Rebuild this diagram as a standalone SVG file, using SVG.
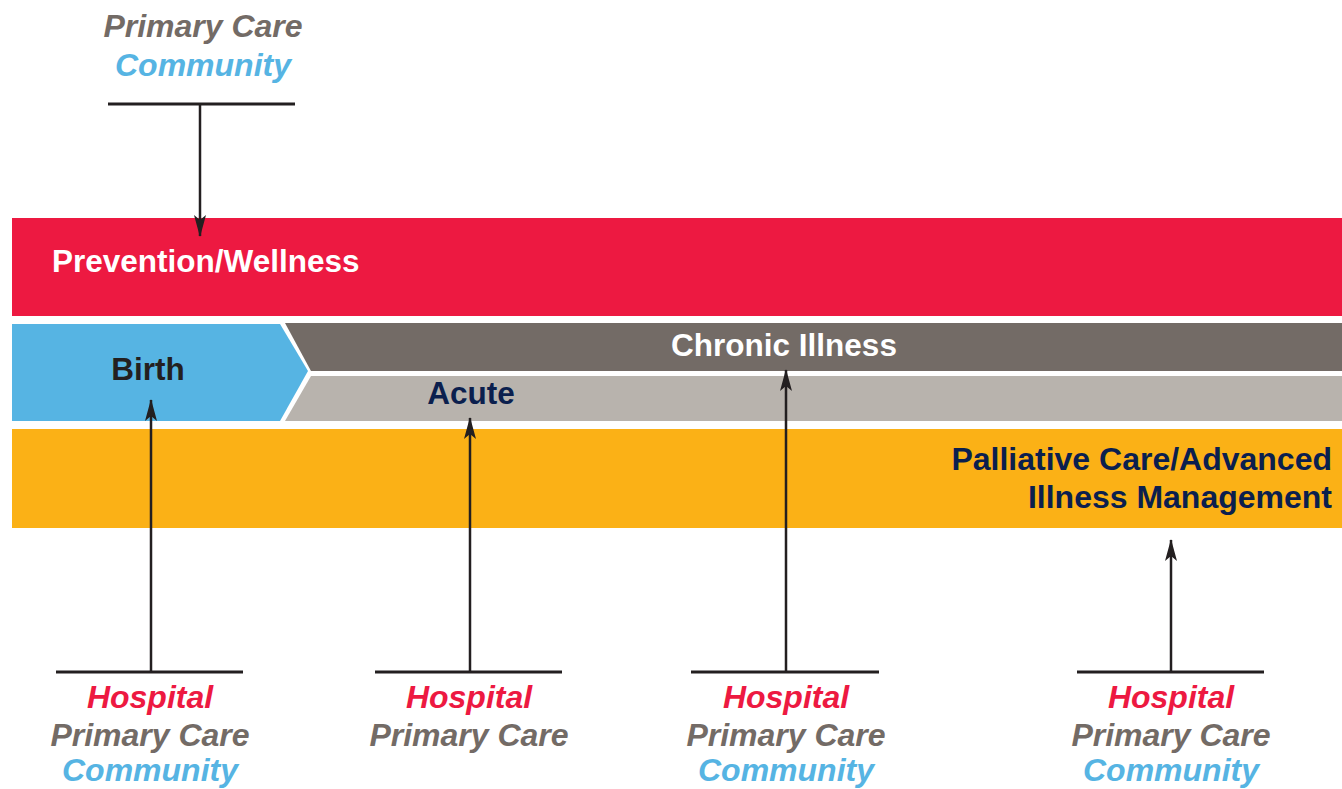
<svg xmlns="http://www.w3.org/2000/svg" width="1342" height="789" viewBox="0 0 1342 789">
<defs>
<style>
text{font-family:"Liberation Sans",Arial,sans-serif;font-weight:bold}
.lbl{font-size:31.5px}
.pal{font-size:32px}
.src{font-size:32px;font-style:italic;text-anchor:middle}
.hosp{fill:#ed1941}
.pc{fill:#736b66}
.com{fill:#56b4e3}
.ln{stroke:#231f20;stroke-width:3;fill:none}
.arr{stroke:#231f20;stroke-width:2.5;fill:none;marker-end:url(#ah)}
</style>
<marker id="ah" viewBox="0 0 22 12" refX="21" refY="6" markerWidth="22" markerHeight="12" markerUnits="userSpaceOnUse" orient="auto">
<path d="M0,0 L22,6 L0,12 L5,6 Z" fill="#231f20"/>
</marker>
</defs>
<rect width="1342" height="789" fill="#fff"/>
<g id="prevention">
<rect x="12" y="218" width="1330" height="98" fill="#ed1941"/>
<text class="lbl" x="52" y="272" fill="#fff">Prevention/Wellness</text>
</g>
<g id="birth">
<polygon points="12,324 280,324 308,371 280,421 12,421" fill="#56b4e3"/>
<text class="lbl" x="148" y="380" fill="#231f20" text-anchor="middle">Birth</text>
</g>
<g id="chronic">
<polygon points="285,323 1342,323 1342,371 311,371" fill="#736b66"/>
<text class="lbl" x="784" y="356" fill="#fff" text-anchor="middle">Chronic Illness</text>
</g>
<g id="acute">
<polygon points="311,376 1342,376 1342,421 285,421" fill="#b8b3ad"/>
<text class="lbl" x="471" y="404" fill="#0b1f4e" text-anchor="middle">Acute</text>
</g>
<g id="palliative">
<rect x="12" y="429" width="1330" height="99" fill="#fbb116"/>
<text class="pal" x="1332" y="470" fill="#0b1f4e" text-anchor="end">Palliative Care/Advanced</text>
<text class="pal" x="1332" y="508" fill="#0b1f4e" text-anchor="end">Illness Management</text>
</g>
<g id="src-top">
<text class="src pc" x="203" y="37">Primary Care</text>
<text class="src com" x="203" y="76">Community</text>
</g>
<g id="src-1">
<text class="src hosp" x="150" y="708">Hospital</text>
<text class="src pc" x="150" y="746">Primary Care</text>
<text class="src com" x="150" y="781">Community</text>
</g>
<g id="src-2">
<text class="src hosp" x="469" y="708">Hospital</text>
<text class="src pc" x="469" y="746">Primary Care</text>
</g>
<g id="src-3">
<text class="src hosp" x="786" y="708">Hospital</text>
<text class="src pc" x="786" y="746">Primary Care</text>
<text class="src com" x="786" y="781">Community</text>
</g>
<g id="src-4">
<text class="src hosp" x="1171" y="708">Hospital</text>
<text class="src pc" x="1171" y="746">Primary Care</text>
<text class="src com" x="1171" y="781">Community</text>
</g>
<g id="connectors">
<line class="ln" x1="108" y1="104" x2="295" y2="104"/>
<line class="arr" x1="200" y1="104" x2="200" y2="236"/>
<line class="ln" x1="56" y1="672" x2="243" y2="672"/>
<line class="arr" x1="151" y1="672" x2="151" y2="400"/>
<line class="ln" x1="375" y1="672" x2="562" y2="672"/>
<line class="arr" x1="470" y1="672" x2="470" y2="418"/>
<line class="ln" x1="691" y1="672" x2="879" y2="672"/>
<line class="arr" x1="786" y1="672" x2="786" y2="370"/>
<line class="ln" x1="1077" y1="672" x2="1264" y2="672"/>
<line class="arr" x1="1171" y1="672" x2="1171" y2="540"/>
</g>
</svg>
